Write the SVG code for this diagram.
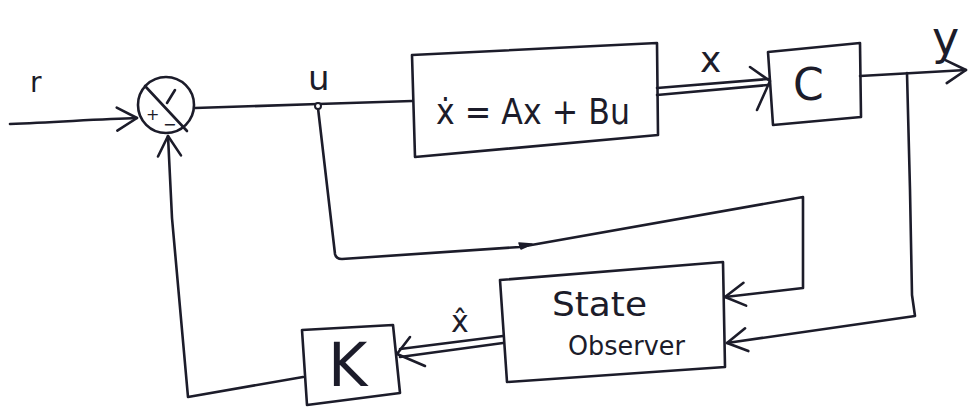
<svg xmlns="http://www.w3.org/2000/svg" width="979" height="408" viewBox="0 0 979 408">
<defs>
<style>
.ink{fill:none;stroke:#1c1c2a;stroke-width:2.6;stroke-linecap:round;stroke-linejoin:round}
.txt{fill:#1c1c2a;font-family:"DejaVu Sans","Liberation Sans",sans-serif}
</style>
<marker id="arr" markerUnits="userSpaceOnUse" markerWidth="28" markerHeight="30" refX="23" refY="14" orient="auto" overflow="visible">
<path d="M3,3 L23,14 L3,26" fill="none" stroke="#1c1c2a" stroke-width="2.6" stroke-linecap="round" stroke-linejoin="round"/>
</marker>
</defs>
<rect width="979" height="408" fill="#ffffff"/>

<g id="connectors">
<path class="ink" d="M10,124 C60,122 100,119 137,118" marker-end="url(#arr)"/>
<path class="ink" d="M195,108 L318,104 L412,101"/>
<path class="ink" d="M318,108 L335,254 Q336,259 342,259 L520,247 L803,197 L803,288 L725,297" marker-end="url(#arr)"/>
<path d="M519,243 L532,244 L521,249 Z" fill="#1c1c2a" stroke="#1c1c2a" stroke-width="1.5" stroke-linejoin="round"/>
<path class="ink" d="M657,88 L768,79 M657,95 L768,85"/>
<path class="ink" d="M750,67 L770,81 L757,110"/>
<path class="ink" d="M860,76 L966,70" marker-end="url(#arr)"/>
<path class="ink" d="M907,73 L910,190 L912,295 L915,316 L727,343" marker-end="url(#arr)"/>
<path class="ink" d="M503,336 L400,349 M503,343 L400,357"/>
<path class="ink" d="M410,337 L397,354 L425,366"/>
<path class="ink" d="M303,377 L188,397 L172,218 L168,136" marker-end="url(#arr)"/>
<circle cx="318" cy="106" r="3" fill="#ffffff" stroke="#1c1c2a" stroke-width="2"/>
</g>

<g id="sum">
<circle class="ink" cx="166" cy="105" r="28"/>
<path class="ink" d="M145,86 L187,131 M175,90 L167,103"/>
<text class="txt" x="146" y="120" font-size="16">+</text>
<text class="txt" x="163" y="130" font-size="16">−</text>
</g>

<g id="plant">
<path class="ink" d="M412,55 L657,43 L658,135 L415,157 Z"/>
<text class="txt" x="436" y="124" font-size="36" textLength="194" lengthAdjust="spacingAndGlyphs">ẋ = Ax + Bu</text>
</g>

<g id="output-C">
<path class="ink" d="M768,52 L860,43 L861,117 L773,125 Z"/>
<text class="txt" x="793" y="100" font-size="44">C</text>
</g>

<g id="observer">
<path class="ink" d="M500,280 L723,262 L725,367 L507,382 Z"/>
<text class="txt" x="552" y="316" font-size="34" textLength="95" lengthAdjust="spacingAndGlyphs">State</text>
<text class="txt" x="568" y="355" font-size="26" textLength="117" lengthAdjust="spacingAndGlyphs">Observer</text>
</g>

<g id="gain-K">
<path class="ink" d="M302,330 L393,325 L400,393 L307,405 Z"/>
<text class="txt" x="328" y="386" font-size="60">K</text>
</g>

<g id="labels">
<text class="txt" x="30" y="92" font-size="28">r</text>
<text class="txt" x="308" y="90" font-size="34">u</text>
<text class="txt" x="700" y="72" font-size="36">x</text>
<text class="txt" x="932" y="54" font-size="46">y</text>
<text class="txt" x="451" y="332" font-size="30">x̂</text>
</g>
</svg>
